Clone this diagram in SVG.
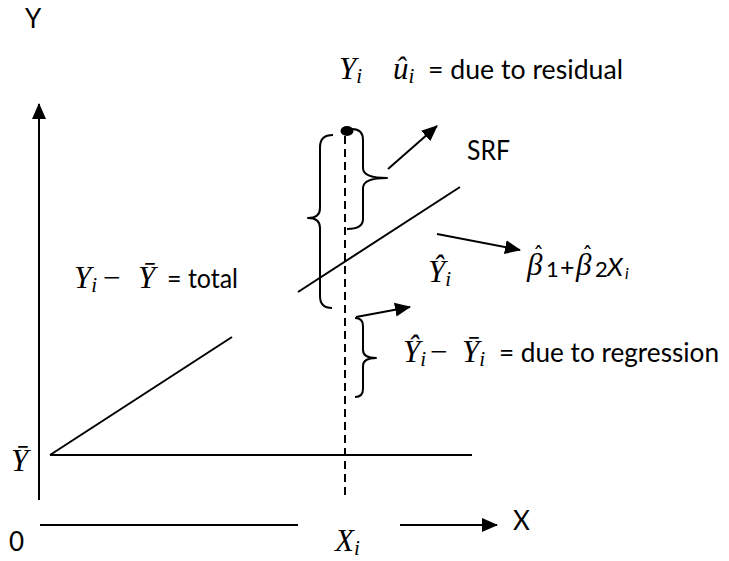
<svg xmlns="http://www.w3.org/2000/svg" width="729" height="561" viewBox="0 0 729 561">
<style>
.ln{stroke:#000;stroke-width:2;fill:none}
.br{stroke:#000;stroke-width:2;fill:none;stroke-linejoin:round}
.t{font-family:Lato,"Open Sans","Liberation Sans",sans-serif;font-size:26px;fill:#000}
.m{font-family:"Liberation Serif","DejaVu Serif",serif;font-style:italic;font-size:31px;fill:#000}
.s{font-size:21px}
.hat{font-family:"DejaVu Sans",sans-serif;font-size:22px;font-style:normal}
.sn{font-family:Lato,"Open Sans","Liberation Sans",sans-serif;font-style:normal;font-size:22px}
</style>
<defs>
<marker id="ahb" markerWidth="16" markerHeight="16" refX="15" refY="8" orient="auto" markerUnits="userSpaceOnUse" viewBox="0 0 16 16">
<path d="M0,1 L16,8 L0,15 z" fill="#000"/>
</marker>
</defs>
<rect width="729" height="561" fill="#fff"/>

<g id="axes">
<line class="ln" x1="39" y1="500" x2="39" y2="104" stroke-width="2.5" marker-end="url(#ahb)"/>
<line class="ln" x1="40" y1="525" x2="298" y2="525" stroke-width="2.5"/>
<line class="ln" x1="400" y1="525" x2="497" y2="525" stroke-width="2.5" marker-end="url(#ahb)"/>
<text class="t" x="25" y="28" style="font-size:26px">Y</text>
<text class="t" x="513" y="530" style="font-size:26px">X</text>
<text class="t" x="9" y="551" style="font-size:26px">0</text>
<text class="m" x="11" y="471">Ȳ</text>
<text class="m" x="335" y="551">X<tspan class="s" dy="4">i</tspan></text>
</g>

<g id="lines">
<line class="ln" x1="50" y1="455" x2="472" y2="455" stroke-width="2.2"/>
<line class="ln" x1="50" y1="455" x2="232" y2="337" stroke-width="1.8"/>
<line class="ln" x1="298" y1="292" x2="460" y2="187" stroke-width="1.8"/>
<line class="ln" x1="345" y1="136" x2="345" y2="500" stroke-dasharray="8,5"/>
<ellipse cx="347" cy="131" rx="6.5" ry="5" fill="#000"/>
<text class="t" x="467" y="160" textLength="43" lengthAdjust="spacingAndGlyphs">SRF</text>
</g>

<g id="braces">
<path class="br" d="M352 129 Q363 129 363 140 L363 168 Q363 178 387 178 Q363 178 363 188 L363 219 Q363 229 347 229"/>
<path class="br" d="M333 135 Q320 135 320 147 L320 208 Q320 218 308 218 Q320 218 320 228 L320 296 Q320 308 332 308"/>
<path class="br" d="M355 318 Q363 318 363 326 L363 350 Q363 358 376 358 Q363 358 363 366 L363 389 Q363 397 355 397"/>
</g>

<g id="connectors">
<line class="ln" x1="388" y1="169" x2="437" y2="126" stroke-width="2.5" marker-end="url(#ahb)"/>
<line class="ln" x1="437" y1="234" x2="520" y2="250" stroke-width="2.5" marker-end="url(#ahb)"/>
<line class="ln" x1="356" y1="317" x2="410" y2="307" stroke-width="2.5" marker-end="url(#ahb)"/>
</g>

<g id="labels">
<text class="m" x="339" y="79">Y<tspan class="s" dy="4">i</tspan></text>
<text class="m" x="393" y="79">û<tspan class="s" dy="4">i</tspan></text>
<text class="t" x="428" y="79" textLength="195" lengthAdjust="spacingAndGlyphs">= due to residual</text>

<text class="m" x="74" y="288">Y<tspan class="s" dy="4">i</tspan></text>
<text class="m" x="103" y="288" style="font-style:normal">−</text>
<text class="m" x="138" y="288">Ȳ</text>
<text class="t" x="167" y="288" textLength="71" lengthAdjust="spacingAndGlyphs">= total</text>

<text class="m" x="428" y="282">Ŷ<tspan class="s" dy="4">i</tspan></text>

<text class="m" x="527" y="275">β<tspan class="hat" x="533" y="262">ˆ</tspan><tspan class="sn" x="546" y="277">1</tspan><tspan class="sn" x="560" y="276" style="font-size:25px">+</tspan><tspan x="576" y="275">β</tspan><tspan class="hat" x="582" y="262">ˆ</tspan><tspan class="sn" x="595" y="277">2</tspan><tspan class="sn" x="607" y="276" style="font-size:26px;font-style:italic">X</tspan><tspan class="sn" x="625" y="279" style="font-size:16px;font-style:italic">i</tspan></text>

<text class="m" x="403" y="362">Ŷ<tspan class="s" dy="4">i</tspan></text>
<text class="m" x="430" y="362" style="font-style:normal">−</text>
<text class="m" x="462" y="362">Ȳ<tspan class="s" dy="4">i</tspan></text>
<text class="t" x="499" y="362" textLength="220" lengthAdjust="spacingAndGlyphs">= due to regression</text>
</g>
</svg>
